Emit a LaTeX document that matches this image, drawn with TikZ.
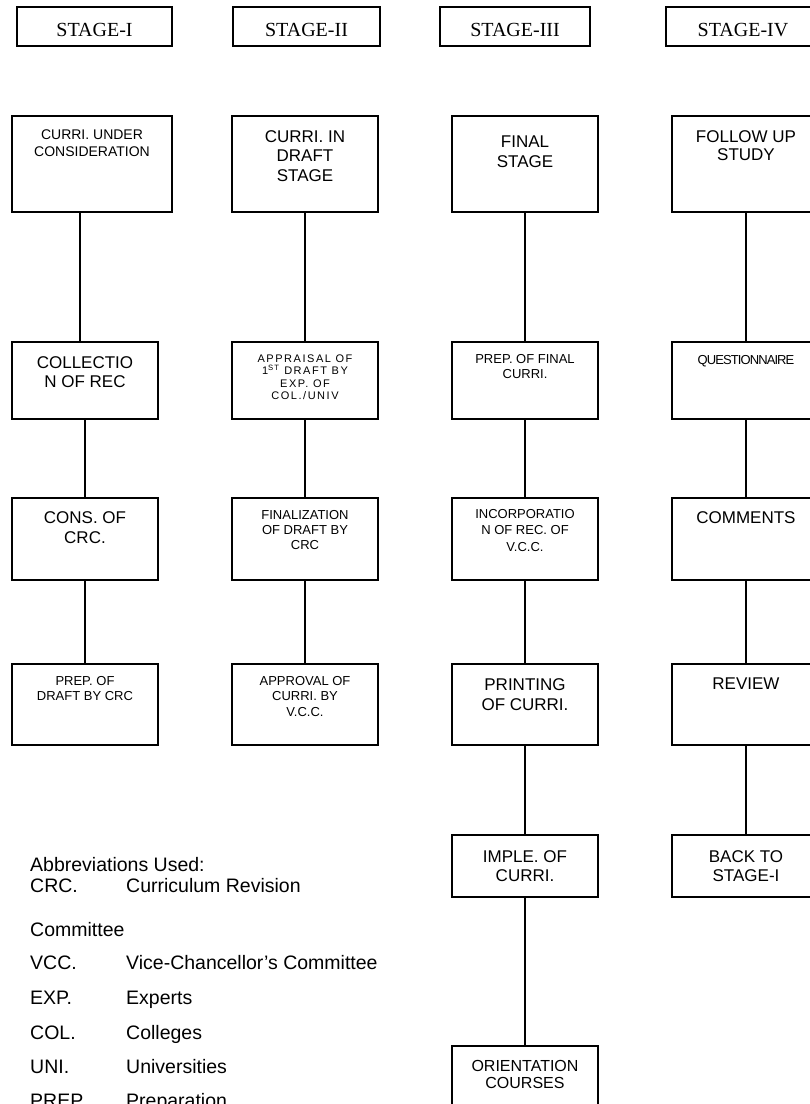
\documentclass[tikz,border=0pt]{standalone}
\usepackage{fontspec}
\setmainfont{Liberation Sans}
\newfontfamily\stagefont{Liberation Serif}
\newfontfamily\widefont[LetterSpace=14]{Liberation Sans}
\newfontfamily\narrowfont[LetterSpace=-7]{Liberation Sans}
\usetikzlibrary{positioning}

\newcommand{\setfs}[2]{\fontsize{#1}{#2}\selectfont}

\begin{document}
\begin{tikzpicture}[x=1pt,y=-1pt,
	stagebox/.style={draw,line width=1.6pt,minimum width=#1,minimum height=39pt,inner sep=0pt,text height=20pt,text depth=0pt,font=\stagefont\setfs{20}{24}},
	box/.style={draw,line width=1.6pt,minimum width=146pt,minimum height=#1,inner sep=0pt},
	txt/.style={anchor=north,inner sep=0pt,align=center,font=\setfs{17}{19.5}},
	smalltxt/.style={txt,font=\setfs{13}{15.5}},
	link/.style={line width=1.4pt},
	abbr/.style={anchor=base west,inner sep=0pt,font=\setfs{19.5}{23}}]

	\useasboundingbox (0,0) rectangle (810,1104);

	% stages
	\node[stagebox=155pt] (s1) at (94.5,26.5) {STAGE-I};
	\node[stagebox=147pt] (s2) at (306.5,26.5) {STAGE-II};
	\node[stagebox=150pt] (s3) at (515,26.5) {STAGE-III};
	\node[stagebox=154pt] (s4) at (743,26.5) {STAGE-IV};

	% stage I
	\node[box=96pt,minimum width=160pt] (c1a) at (92,164) {};
	\node[box=77pt] (c1b) at (85,380.5) {};
	\node[box=82pt] (c1c) at (85,539) {};
	\node[box=81pt] (c1d) at (85,704.5) {};
	\node[txt,font=\setfs{14}{17},below=14pt of c1a.north] (t1a) {CURRI. UNDER\\CONSIDERATION};
	\node[txt,below=15pt of c1b.north] (t1b) {COLLECTIO\\N OF REC};
	\node[txt,font=\setfs{17}{20},below=14pt of c1c.north] (t1c) {CONS. OF\\CRC.};
	\node[smalltxt,font=\setfs{13}{15},below=13pt of c1d.north] (t1d) {PREP. OF\\DRAFT BY CRC};

	% stage II
	\node[box=96pt] (c2a) at (305,164) {};
	\node[box=77pt] (c2b) at (305,380.5) {};
	\node[box=82pt] (c2c) at (305,539) {};
	\node[box=81pt] (c2d) at (305,704.5) {};
	\node[txt,below=15pt of c2a.north] (t2a) {CURRI. IN\\DRAFT\\STAGE};
	\node[txt,font=\widefont\setfs{11}{12.5},below=13pt of c2b.north] (t2b) {APPRAISAL OF\\1\textsuperscript{ST} DRAFT BY\\EXP. OF\\COL./UNIV};
	\node[smalltxt,font=\setfs{13}{15},below=13pt of c2c.north] (t2c) {FINALIZATION\\OF DRAFT BY\\CRC};
	\node[smalltxt,below=13pt of c2d.north] (t2d) {APPROVAL OF\\CURRI. BY\\V.C.C.};

	% stage III
	\node[box=96pt] (c3a) at (525,164) {};
	\node[box=77pt] (c3b) at (525,380.5) {};
	\node[box=82pt] (c3c) at (525,539) {};
	\node[box=81pt] (c3d) at (525,704.5) {};
	\node[box=62pt] (c3e) at (525,866) {};
	\node[box=64pt] (c3f) at (525,1078) {};
	\node[txt,font=\setfs{17}{20},below=20pt of c3a.north] (t3a) {FINAL\\STAGE};
	\node[smalltxt,below=13pt of c3b.north] (t3b) {PREP. OF FINAL\\CURRI.};
	\node[smalltxt,font=\setfs{13}{16.5},below=12pt of c3c.north] (t3c) {INCORPORATIO\\N OF REC. OF\\V.C.C.};
	\node[txt,font=\setfs{17}{20},below=15pt of c3d.north] (t3d) {PRINTING\\OF CURRI.};
	\node[txt,font=\setfs{17}{19},below=16pt of c3e.north] (t3e) {IMPLE. OF\\CURRI.};
	\node[txt,font=\setfs{16}{16.5},below=15pt of c3f.north] (t3f) {ORIENTATION\\COURSES};

	% stage IV
	\node[box=96pt,minimum width=148pt] (c4a) at (746,164) {};
	\node[box=77pt,minimum width=148pt] (c4b) at (746,380.5) {};
	\node[box=82pt,minimum width=148pt] (c4c) at (746,539) {};
	\node[box=81pt,minimum width=148pt] (c4d) at (746,704.5) {};
	\node[box=62pt,minimum width=148pt] (c4e) at (746,866) {};
	\node[txt,font=\setfs{17}{18.5},below=15pt of c4a.north] (t4a) {FOLLOW UP\\STUDY};
	\node[smalltxt,font=\narrowfont\setfs{13}{15},below=14pt of c4b.north] (t4b) {QUESTIONNAIRE};
	\node[txt,below=14pt of c4c.north] (t4c) {COMMENTS};
	\node[txt,below=14pt of c4d.north] (t4d) {REVIEW};
	\node[txt,font=\setfs{17}{19},below=16pt of c4e.north] (t4e) {BACK TO\\STAGE-I};

	% links
	\draw[link] ([xshift=-12pt]c1a.south) -- ([xshift=-12pt]c1a.south |- c1b.north);
	\path[link] (c1b) edge (c1c)
	            (c1c) edge (c1d)
	            (c2a) edge (c2b)
	            (c2b) edge (c2c)
	            (c2c) edge (c2d)
	            (c3a) edge (c3b)
	            (c3b) edge (c3c)
	            (c3c) edge (c3d)
	            (c3d) edge (c3e)
	            (c3e) edge (c3f)
	            (c4a) edge (c4b)
	            (c4b) edge (c4c)
	            (c4c) edge (c4d)
	            (c4d) edge (c4e);

	% abbreviations
	\node[abbr] (abhead) at (30,871.5) {Abbreviations Used:};
	\node[abbr] (crc) at (30,892.5) {CRC.};
	\node[abbr] (crcx) at (126,892.5) {Curriculum Revision};
	\node[abbr] (comm) at (30,936.5) {Committee};
	\node[abbr] (vcc) at (30,969.5) {VCC.};
	\node[abbr] (vccx) at (126,969.5) {Vice-Chancellor’s Committee};
	\node[abbr] (exp) at (30,1004.5) {EXP.};
	\node[abbr] (expx) at (126,1004.5) {Experts};
	\node[abbr] (col) at (30,1039.5) {COL.};
	\node[abbr] (colx) at (126,1039.5) {Colleges};
	\node[abbr] (uni) at (30,1073.5) {UNI.};
	\node[abbr] (unix) at (126,1073.5) {Universities};
	\node[abbr] (prep) at (30,1107.5) {PREP.};
	\node[abbr] (prepx) at (126,1107.5) {Preparation};
\end{tikzpicture}
\end{document}
